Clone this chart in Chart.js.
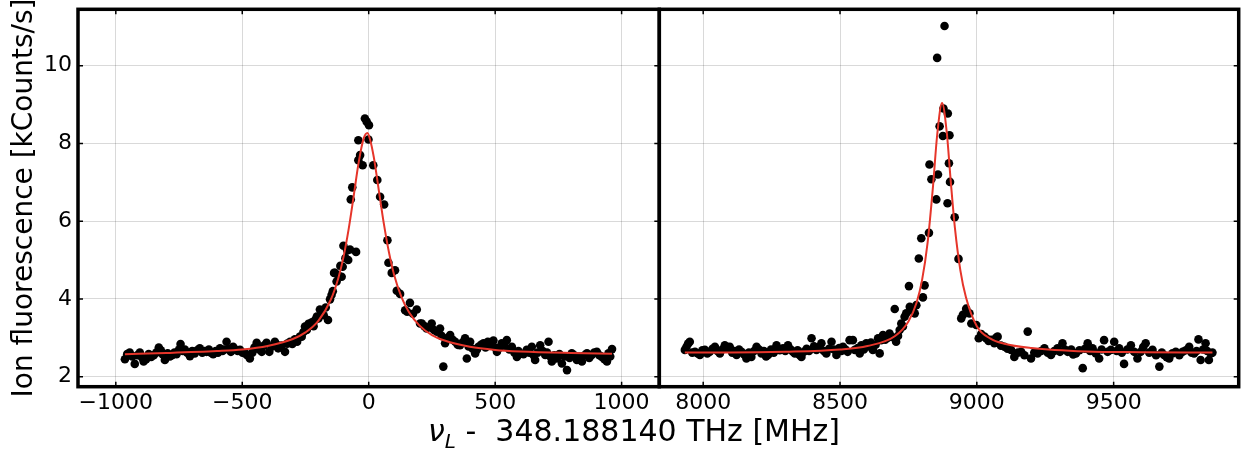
<!DOCTYPE html>
<html>
<head>
<meta charset="utf-8">
<script src="https://cdn.jsdelivr.net/npm/chart.js@4.4.0/dist/chart.umd.min.js"></script>
<style>
  body { margin: 0; background: #fff; width: 1243px; height: 452px; overflow: hidden; position: relative; font-family: "DejaVu Sans", sans-serif; }
  canvas { position: absolute; top: 0; }
  #xtitle { position: absolute; left: 0; width: 1268px; top: 414px; text-align: center; font-size: 30px; color: #000; white-space: pre; line-height: 34px; }
  #xtitle sub { font-size: 20px; vertical-align: -7px; }
</style>
</head>
<body>
<canvas id="leftChart" width="700" height="452" style="left:0"></canvas>
<canvas id="rightChart" width="623" height="452" style="left:620px"></canvas>
<div id="xtitle"><i>ν</i><sub><i>L</i></sub> -  348.188140 THz [MHz]</div>
<script>
// tick positions
var yTicks = [2, 4, 6, 8, 10];
var leftTicks = [-1000, -500, 0, 500, 1000];
var rightTicks = [8000, 8500, 9000, 9500];

// measured points, left resonance [MHz, kCounts/s]
var leftPoints = [
  [-964,2.45],[-955,2.58],[-945,2.62],[-935,2.52],[-925,2.33],[-915,2.55],[-905,2.62],[-897,2.50],[-890,2.39],[-880,2.45],
  [-870,2.58],[-860,2.51],[-850,2.55],[-840,2.62],[-830,2.75],[-822,2.68],[-815,2.58],[-806,2.43],[-795,2.60],[-786,2.52],
  [-778,2.55],[-768,2.62],[-760,2.58],[-750,2.70],[-744,2.84],[-735,2.66],[-727,2.70],[-718,2.62],[-707,2.53],[-698,2.66],
  [-688,2.60],[-678,2.68],[-668,2.73],[-658,2.62],[-650,2.66],[-641,2.64],[-632,2.70],[-624,2.62],[-615,2.58],[-605,2.66],
  [-596,2.62],[-588,2.73],[-578,2.66],[-570,2.70],[-562,2.90],[-553,2.72],[-545,2.64],[-536,2.77],[-527,2.70],[-518,2.66],
  [-509,2.69],[-499,2.62],[-489,2.60],[-480,2.55],[-470,2.47],[-460,2.62],[-452,2.75],[-443,2.87],[-433,2.70],[-423,2.64],
  [-414,2.80],[-404,2.87],[-393,2.64],[-382,2.78],[-371,2.90],[-363,2.82],[-358,2.73],[-345,2.80],[-331,2.64],[-322,2.85],
  [-311,2.90],[-302,2.84],[-292,2.96],[-283,2.90],[-272,3.03],[-265,3.03],[-258,3.15],[-252,3.29],[-245,3.20],[-238,3.36],
  [-232,3.33],[-225,3.40],[-218,3.30],[-212,3.46],[-205,3.55],[-199,3.50],[-193,3.73],[-186,3.62],[-178,3.58],[-170,3.78],
  [-161,3.46],[-153,3.99],[-147,4.10],[-142,4.20],[-137,4.67],[-133,4.67],[-127,4.45],[-120,4.60],[-112,4.85],[-107,4.57],
  [-103,4.83],[-100,5.37],[-92,5.05],[-85,5.25],[-81,5.00],[-74,5.27],[-71,6.56],[-65,6.87],[-50,5.21],[-41,8.08],
  [-41,7.57],[-34,7.70],[-24,7.44],[-15,8.64],[-8,8.56],[-1,8.10],[1,8.47],[18,7.44],[34,7.06],[45,6.63],
  [61,6.43],[74,5.51],[78,4.93],[91,4.67],[104,4.74],[111,4.21],[124,4.13],[144,3.71],[152,3.67],[163,3.90],
  [175,3.62],[190,3.73],[203,3.37],[210,3.37],[220,3.30],[229,3.24],[240,3.28],[249,3.37],[258,3.20],[269,3.16],
  [282,3.24],[288,3.05],[295,2.26],[302,2.86],[312,3.00],[322,3.07],[332,2.95],[342,2.90],[352,2.82],[361,2.81],
  [371,2.88],[381,2.99],[388,2.47],[395,2.78],[401,2.90],[411,2.72],[421,2.60],[428,2.70],[434,2.77],[444,2.82],
  [454,2.86],[462,2.75],[471,2.90],[480,2.80],[486,2.85],[493,2.93],[500,2.75],[507,2.64],[516,2.74],[526,2.86],
  [536,2.80],[546,2.94],[556,2.70],[566,2.77],[576,2.62],[586,2.51],[592,2.66],[599,2.60],[612,2.58],[625,2.69],
  [635,2.62],[645,2.77],[652,2.55],[658,2.43],[668,2.62],[678,2.81],[688,2.66],[698,2.56],[705,2.62],[711,2.90],
  [718,2.52],[724,2.39],[734,2.55],[744,2.47],[754,2.58],[764,2.34],[774,2.52],[784,2.17],[794,2.48],[803,2.60],
  [813,2.55],[823,2.43],[833,2.52],[843,2.39],[853,2.55],[863,2.60],[872,2.48],[882,2.56],[892,2.62],[902,2.64],
  [912,2.55],[922,2.51],[932,2.45],[942,2.39],[948,2.60],[955,2.52],[962,2.71]
];

// measured points, right resonance
var rightPoints = [
  [7933,2.69],[7939,2.77],[7945,2.85],[7951,2.90],[7960,2.62],[7970,2.64],[7980,2.60],[7988,2.56],[7997,2.68],[8006,2.69],
  [8015,2.60],[8024,2.64],[8034,2.72],[8043,2.77],[8052,2.66],[8061,2.60],[8070,2.70],[8079,2.81],[8088,2.72],[8097,2.77],
  [8106,2.62],[8114,2.66],[8122,2.56],[8131,2.70],[8140,2.64],[8149,2.58],[8158,2.47],[8167,2.62],[8176,2.51],[8186,2.66],
  [8195,2.77],[8204,2.70],[8213,2.60],[8222,2.66],[8230,2.52],[8237,2.56],[8248,2.70],[8258,2.62],[8268,2.81],[8280,2.68],
  [8292,2.73],[8300,2.66],[8310,2.81],[8320,2.70],[8328,2.64],[8335,2.60],[8345,2.68],[8352,2.56],[8359,2.51],[8368,2.64],
  [8378,2.72],[8387,2.66],[8396,2.99],[8405,2.78],[8414,2.69],[8423,2.75],[8432,2.86],[8441,2.66],[8450,2.60],[8460,2.72],
  [8469,2.90],[8478,2.70],[8487,2.56],[8497,2.74],[8505,2.66],[8511,2.77],[8520,2.70],[8528,2.64],[8535,2.94],[8547,2.94],
  [8554,2.69],[8565,2.74],[8572,2.60],[8578,2.81],[8587,2.70],[8596,2.86],[8606,2.78],[8613,2.88],[8620,2.69],[8630,2.82],
  [8639,2.99],[8645,2.60],[8650,2.94],[8657,3.07],[8665,2.95],[8675,3.00],[8681,3.11],[8690,3.02],[8700,3.74],[8705,2.90],
  [8712,3.05],[8718,3.20],[8724,3.37],[8730,3.29],[8736,3.54],[8742,3.63],[8752,4.33],[8755,3.80],[8766,3.70],[8773,3.63],
  [8779,3.84],[8788,5.04],[8797,5.56],[8803,4.04],[8809,4.35],[8825,5.70],[8827,7.46],[8834,7.08],[8852,6.56],[8855,10.20],
  [8858,7.20],[8864,8.44],[8876,8.19],[8878,8.90],[8882,11.02],[8893,6.46],[8894,8.77],[8898,7.49],[8900,8.21],[8902,7.01],
  [8919,6.10],[8933,5.03],[8943,3.50],[8949,3.59],[8961,3.75],[8973,3.63],[8980,3.37],[8998,3.33],[9007,2.99],[9016,3.10],
  [9028,3.03],[9034,2.99],[9043,2.92],[9052,2.95],[9064,2.86],[9070,3.00],[9076,3.03],[9088,2.80],[9101,2.77],[9112,2.72],
  [9125,2.69],[9137,2.51],[9150,2.62],[9162,2.64],[9174,2.55],[9186,3.16],[9198,2.47],[9210,2.62],[9222,2.60],[9235,2.66],
  [9247,2.73],[9259,2.62],[9271,2.56],[9283,2.66],[9295,2.73],[9304,2.64],[9313,2.86],[9322,2.70],[9332,2.64],[9345,2.70],
  [9352,2.57],[9362,2.60],[9375,2.68],[9387,2.22],[9395,2.72],[9405,2.86],[9414,2.66],[9423,2.73],[9435,2.60],[9447,2.47],
  [9456,2.70],[9465,2.94],[9478,2.64],[9490,2.69],[9502,2.90],[9511,2.66],[9520,2.73],[9530,2.62],[9538,2.33],[9550,2.70],
  [9563,2.81],[9575,2.64],[9587,2.47],[9599,2.64],[9608,2.76],[9617,2.86],[9630,2.62],[9642,2.69],[9655,2.55],[9667,2.26],
  [9676,2.62],[9684,2.56],[9694,2.50],[9703,2.47],[9715,2.60],[9727,2.64],[9740,2.55],[9752,2.64],[9764,2.68],[9776,2.77],
  [9785,2.62],[9794,2.60],[9803,2.66],[9810,2.96],[9818,2.43],[9827,2.70],[9836,2.86],[9842,2.66],[9848,2.43],[9855,2.60],
  [9861,2.62]
];

// fitted curves
var leftFit = [
  [-964,2.58],[-800,2.61],[-600,2.66],[-500,2.70],[-400,2.79],[-300,2.97],[-250,3.14],[-200,3.43],[-150,3.98],[-120,4.54],
  [-100,5.07],[-80,5.77],[-60,6.62],[-40,7.50],[-20,8.13],[-5,8.27],[5,8.11],[20,7.65],[40,6.79],[60,5.93],
  [80,5.20],[100,4.63],[130,4.04],[160,3.65],[200,3.32],[250,3.07],[300,2.93],[400,2.77],[500,2.69],[600,2.65],
  [800,2.61],[962,2.59]
];
var rightFit = [
  [7933,2.62],[8100,2.62],[8300,2.64],[8500,2.70],[8600,2.79],[8700,3.04],[8750,3.42],[8780,3.91],[8800,4.49],[8820,5.44],
  [8840,6.91],[8855,8.21],[8873,9.04],[8890,8.29],[8905,7.00],[8920,5.82],[8940,4.73],[8960,4.05],[9000,3.30],[9050,2.98],
  [9100,2.85],[9200,2.74],[9400,2.65],[9600,2.63],[9861,2.62]
];

var FONT = 'DejaVu Sans';
var GRID = 'rgba(0,0,0,0.15)';
var Y_MIN = 1.743, Y_MAX = 11.45;

function toXY(arr) {
  return arr.map(function (p) { return { x: p[0], y: p[1] }; });
}
function fmt(v) {
  return (v < 0 ? '\u2212' : '') + Math.abs(v);
}
function fixTicks(list) {
  return function (scale) {
    scale.ticks = list.map(function (v) { return { value: v }; });
  };
}

// thick spines and short inward tick marks
var frame = {
  id: 'frame',
  afterDatasetsDraw: function (chart, args, opts) {
    var ctx = chart.ctx, a = chart.chartArea, x = chart.scales.x, y = chart.scales.y;
    var t = 5;
    ctx.save();
    ctx.strokeStyle = '#000';
    ctx.lineWidth = 1.5;
    ctx.beginPath();
    x.ticks.forEach(function (tk) {
      var px = x.getPixelForValue(tk.value);
      ctx.moveTo(px, a.bottom); ctx.lineTo(px, a.bottom - t);
      ctx.moveTo(px, a.top); ctx.lineTo(px, a.top + t);
    });
    y.ticks.forEach(function (tk) {
      var py = y.getPixelForValue(tk.value);
      if (opts.leftTicks) { ctx.moveTo(a.left, py); ctx.lineTo(a.left + t, py); }
      ctx.moveTo(a.right, py); ctx.lineTo(a.right - t, py);
    });
    ctx.stroke();
    ctx.lineWidth = 3.5;
    ctx.strokeRect(a.left, a.top, a.right - a.left, a.bottom - a.top);
    ctx.restore();
  }
};

function makeChart(id, points, fit, xMin, xMax, xTicks, isLeft) {
  var canvas = document.getElementById(id);
  var w = canvas.width;
  var plotRight = isLeft ? 659.3 : 1240 - 620;
  return new Chart(canvas, {
    data: {
      datasets: [
        {
          type: 'line', data: toXY(fit), borderColor: '#e6352a', borderWidth: 2,
          pointRadius: 0, cubicInterpolationMode: 'monotone', fill: false
        },
        {
          type: 'scatter', data: toXY(points), pointRadius: 4.3,
          pointBackgroundColor: '#000', pointBorderWidth: 0
        }
      ]
    },
    options: {
      responsive: false,
      animation: false,
      devicePixelRatio: 1,
      layout: { padding: { top: 9.3, right: w - plotRight, left: isLeft ? 0 : 39.3, bottom: 0 } },
      plugins: { legend: { display: false }, tooltip: { enabled: false }, frame: { leftTicks: isLeft } },
      scales: {
        x: {
          type: 'linear', position: 'bottom', min: xMin, max: xMax,
          afterBuildTicks: fixTicks(xTicks),
          afterFit: function (s) { s.height = 452 - 386.7; s.paddingLeft = 0; s.paddingRight = 0; },
          grid: { color: GRID, lineWidth: 1, drawTicks: false },
          border: { display: false },
          ticks: { padding: 3, color: '#000', font: { family: FONT, size: 22 }, callback: fmt, maxRotation: 0 }
        },
        y: {
          type: 'linear', position: 'left', min: Y_MIN, max: Y_MAX,
          afterBuildTicks: fixTicks(yTicks),
          afterFit: function (s) { s.width = isLeft ? 78 : 0; s.paddingTop = 0; s.paddingBottom = 0; },
          grid: { color: GRID, lineWidth: 1, drawTicks: false },
          border: { display: false },
          ticks: { display: isLeft, padding: 6, color: '#000', font: { family: FONT, size: 22 }, callback: fmt },
          title: {
            display: isLeft, text: 'Ion fluorescence [kCounts/s]', color: '#000',
            font: { family: FONT, size: 28 }, padding: { top: 8, bottom: 0 }
          }
        }
      }
    },
    plugins: [frame]
  });
}

makeChart('leftChart', leftPoints, leftFit, -1149.5, 1149, leftTicks, true);
makeChart('rightChart', rightPoints, rightFit, 7839.6, 9957, rightTicks, false);
</script>
</body>
</html>
